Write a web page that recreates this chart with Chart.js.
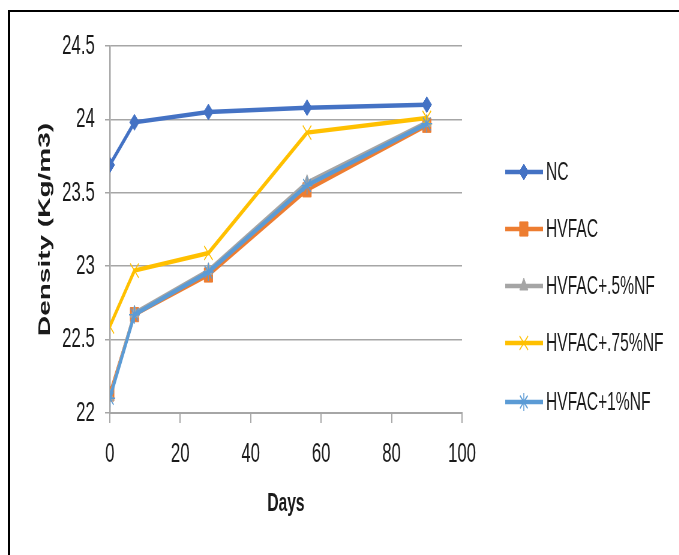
<!DOCTYPE html>
<html>
<head>
<meta charset="utf-8">
<script src="https://cdn.jsdelivr.net/npm/chart.js@4"></script>
<style>
  html, body { margin: 0; padding: 0; background: #fff; overflow: hidden; }
  body { width: 679px; height: 555px; position: relative; }
  #frame { position: absolute; left: 8px; top: 10px; width: 700px; height: 560px;
           border-left: 2px solid #000; border-top: 2px solid #000; }
  /* the reference is a horizontally squeezed picture, so draw wide and squeeze */
  #wrap { position: absolute; left: 0; top: 0; width: 1132px; height: 555px;
          transform: scaleX(0.6); transform-origin: 0 0; }
</style>
</head>
<body>
<div id="frame"></div>
<div id="wrap"><canvas id="chart" width="1132" height="555"></canvas></div>
<script>
// --- Data ---
const days = [0, 7, 28, 56, 90];
const seriesNames = ['NC', 'HVFAC', 'HVFAC+.5%NF', 'HVFAC+.75%NF', 'HVFAC+1%NF'];
const nc     = [23.69, 23.98, 24.05, 24.08, 24.10];
const hvfac  = [22.13, 22.67, 22.94, 23.52, 23.96];
const nf05   = [22.11, 22.68, 22.97, 23.57, 23.98];
const nf075  = [22.59, 22.97, 23.09, 23.91, 24.01];
const nf1    = [22.10, 22.67, 22.96, 23.55, 23.97];
const yMin = 22, yMax = 24.5, yStep = 0.5;
const xMin = 0, xMax = 100, xStep = 20;

// --- Styles ---
const colors = ['#4472C4', '#ED7D31', '#A5A5A5', '#FFC000', '#5B9BD5'];
const styles = ['rectRot', 'rect', 'triangle', 'crossRot', 'star'];
const radii  = [8, 10, 8, 10, 9];
const legendY = [172, 229, 286, 343, 402];

Chart.defaults.font.family = "'Liberation Sans', Arial, sans-serif";
Chart.defaults.color = '#1a1a1a';

const values = [nc, hvfac, nf05, nf075, nf1];
const datasets = values.map((vals, i) => ({
    label: seriesNames[i],
    data: days.map((d, j) => ({ x: d, y: vals[j] })),
    borderColor: colors[i],
    backgroundColor: colors[i],
    borderWidth: 4.5,
    pointStyle: styles[i],
    pointRadius: radii[i],
    pointBorderWidth: (i >= 3) ? 1.5 : 1,
    pointBackgroundColor: colors[i],
    pointBorderColor: colors[i],
    tension: 0,
    order: 5 - i
}));

// legend drawn at the right, like the Excel one
const sideLegend = {
    id: 'sideLegend',
    afterDraw(chart) {
        const ctx = chart.ctx;
        ctx.save();
        chart.data.datasets.forEach((ds, i) => {
            const y = legendY[i];
            ctx.strokeStyle = ds.borderColor;
            ctx.lineWidth = 4.5;
            ctx.beginPath();
            ctx.moveTo(842, y);
            ctx.lineTo(905, y);
            ctx.stroke();
            if (Chart.helpers && Chart.helpers.drawPoint) {
                ctx.fillStyle = ds.pointBackgroundColor;
                ctx.strokeStyle = ds.pointBorderColor;
                ctx.lineWidth = ds.pointBorderWidth;
                Chart.helpers.drawPoint(ctx, {
                    pointStyle: ds.pointStyle, radius: ds.pointRadius,
                    rotation: 0, borderWidth: ds.pointBorderWidth
                }, 873, y);
            }
            ctx.fillStyle = '#1a1a1a';
            ctx.font = "26px 'Liberation Sans', Arial, sans-serif";
            ctx.textBaseline = 'middle';
            ctx.textAlign = 'left';
            ctx.fillText(ds.label, 910, y + 1);
        });
        ctx.restore();
    }
};

new Chart(document.getElementById('chart'), {
    type: 'line',
    data: { datasets },
    plugins: [sideLegend],
    options: {
        responsive: false,
        animation: false,
        layout: { padding: { left: 0, right: 362, top: 46, bottom: 0 } },
        plugins: { legend: { display: false }, tooltip: { enabled: false } },
        scales: {
            x: {
                type: 'linear',
                min: xMin, max: xMax,
                afterFit: (scale) => { scale.height = 142; },
                ticks: { stepSize: xStep, padding: 14, font: { size: 28 }, maxRotation: 0 },
                grid: { drawOnChartArea: false, drawTicks: true, tickLength: 10,
                        color: '#a6a6a6', lineWidth: 2 },
                border: { color: '#a6a6a6', width: 2 },
                title: { display: true, text: 'Days', font: { size: 26, weight: 'bold' },
                         padding: { top: 0, bottom: 36 } }
            },
            y: {
                min: yMin, max: yMax,
                afterFit: (scale) => { scale.width = 183; },
                ticks: { stepSize: yStep, padding: 17, font: { size: 28 },
                         callback: (v) => String(Number(v)) },
                grid: { color: '#a6a6a6', lineWidth: 1.5, tickLength: 8 },
                border: { color: '#a6a6a6', width: 2.5 },
                title: { display: true, text: 'Density (Kg/m3)', font: { size: 28, weight: 'bold' },
                         padding: { top: 58, bottom: 0 } }
            }
        }
    }
});
</script>
</body>
</html>
